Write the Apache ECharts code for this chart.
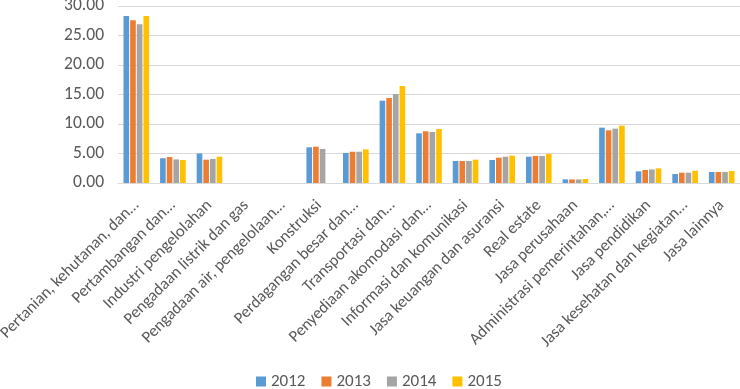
<!DOCTYPE html>
<html>
<head>
<meta charset="utf-8">
<script src="https://cdn.jsdelivr.net/npm/echarts@6/dist/echarts.min.js"></script>
<style>html,body{margin:0;padding:0;background:#fff}#c{width:740px;height:389px}</style>
</head>
<body>
<div id="c"></div>
<script>
const categories = [
  "Pertanian, kehutanan, dan…",
  "Pertambangan dan…",
  "Industri pengelolahan",
  "Pengadaan listrik dan gas",
  "Pengadaan air, pengelolaan…",
  "Konstruksi",
  "Perdagangan besar dan…",
  "Transportasi dan…",
  "Penyediaan akomodasi dan…",
  "Informasi dan komunikasi",
  "Jasa keuangan dan asuransi",
  "Real estate",
  "Jasa perusahaan",
  "Administrasi pemerintahan,…",
  "Jasa pendidikan",
  "Jasa kesehatan dan kegiatan…",
  "Jasa lainnya"
];
const seriesNames = ["2012", "2013", "2014", "2015"];
const v2012 = [28.3, 4.2, 5.0, 0, 0, 6.05, 5.1, 13.95, 8.42, 3.73, 3.9, 4.46, 0.62, 9.38, 1.97, 1.53, 1.86];
const v2013 = [27.6, 4.4, 3.95, 0, 0, 6.15, 5.3, 14.4, 8.76, 3.73, 4.29, 4.58, 0.6, 8.93, 2.2, 1.75, 1.86];
const v2014 = [26.9, 4.0, 4.07, 0, 0, 5.76, 5.3, 15.08, 8.64, 3.73, 4.46, 4.58, 0.6, 9.21, 2.3, 1.75, 1.86];
const v2015 = [28.3, 3.9, 4.46, 0, 0, 0, 5.7, 16.44, 9.15, 3.95, 4.63, 4.92, 0.68, 9.72, 2.48, 2.08, 2.03];
const values = [v2012, v2013, v2014, v2015];
const colors = ["#5B9BD5", "#ED7D31", "#A5A5A5", "#FFC000"];

const font = "Carlito, Lato";
const chart = echarts.init(document.getElementById('c'));
chart.setOption({
  animation: false,
  color: colors,
  grid: { left: 118, right: 0, top: 6, bottom: 206, containLabel: false, outerBoundsMode: 'none' },
  legend: {
    top: 373,
    left: 256,
    itemWidth: 10, itemHeight: 10, itemGap: 16, padding: 0,
    icon: 'rect',
    textStyle: { fontFamily: font, fontSize: 17, color: '#595959' },
    data: seriesNames
  },
  xAxis: {
    type: 'category',
    data: categories,
    axisLine: { show: true, lineStyle: { color: '#D9D9D9' } },
    axisTick: { show: false },
    axisLabel: { rotate: 45, interval: 0, margin: 20, fontFamily: font, fontSize: 16.5, color: '#595959' }
  },
  yAxis: {
    type: 'value',
    min: 0, max: 30, interval: 5,
    axisLine: { show: false },
    axisTick: { show: false },
    splitLine: { lineStyle: { color: '#D9D9D9' } },
    axisLabel: { margin: 14, fontFamily: font, fontSize: 17.5, color: '#595959', formatter: v => v.toFixed(2) }
  },
  series: seriesNames.map((n, i) => ({
    name: n,
    type: 'bar',
    data: values[i],
    barGap: '18%',
    barCategoryGap: '30%'
  }))
});
</script>
</body>
</html>
